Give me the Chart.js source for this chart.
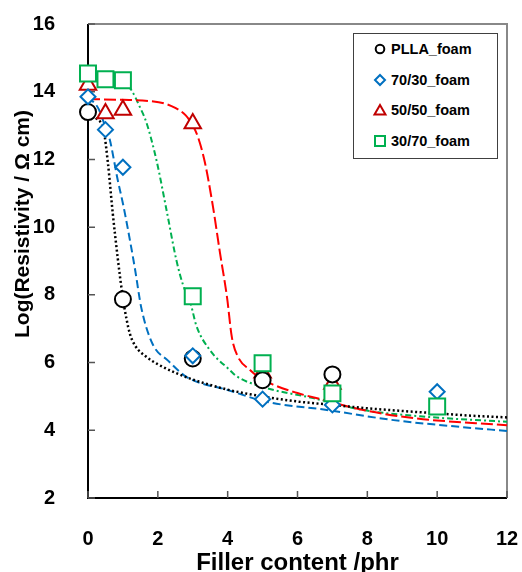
<!DOCTYPE html>
<html>
<head>
<meta charset="utf-8">
<script src="https://cdn.jsdelivr.net/npm/chart.js@4/dist/chart.umd.min.js"></script>
<style>
	body { margin: 0; background: #fff; }
	#wrap { position: relative; width: 522px; height: 572px; }
	#legend {
		position: absolute; left: 353px; top: 33px; width: 143px; height: 124px;
		border: 1px solid #404040; background: #fff;
		font: bold 14.5px "Liberation Sans", Arial, sans-serif; color: #000;
	}
	.item { position: absolute; left: 0; height: 20px; line-height: 20px; }
	.item svg { position: absolute; left: 18px; top: 2px; }
	.item span { position: absolute; left: 37px; white-space: nowrap; }
</style>
</head>
<body>
<div id="wrap">
	<canvas id="chart" width="522" height="572"></canvas>
	<div id="legend"></div>
</div>
<script>
const seriesNames = ['PLLA_foam', '70/30_foam', '50/50_foam', '30/70_foam'];
const markerColors = ['#000000', '#0070C0', '#C00000', '#00B050'];
const lineColors = ['#000000', '#0070C0', '#FF0000', '#00B050'];
const markerStyles = ['circle', 'rectRot', 'triangle', 'rect'];

const xTicks = [0, 2, 4, 6, 8, 10, 12];
const yTicks = [2, 4, 6, 8, 10, 12, 14, 16];

// measured points
const pllaX = [0, 1, 3, 5, 7];
const pllaY = [13.4, 7.87, 6.12, 5.48, 5.65];
const b7030X = [0, 0.5, 1, 3, 5, 7, 10];
const b7030Y = [13.85, 12.88, 11.77, 6.2, 4.92, 4.75, 5.14];
const b5050X = [0, 0.5, 1, 3, 5, 7];
const b5050Y = [14.2, 13.36, 13.46, 13.06, 5.7, 5.37];
const b3070X = [0, 0.5, 1, 3, 5, 7, 10];
const b3070Y = [14.54, 14.37, 14.34, 7.96, 5.98, 5.09, 4.7];

// fitted curves
const pllaFitX = [0, 0.25, 0.45, 0.57, 0.71, 0.85, 1.0, 1.1, 1.2, 1.35, 1.67, 2.0, 2.5, 3, 4, 5, 6, 7, 8, 9, 10, 11, 12];
const pllaFitY = [13.35, 13.2, 12.85, 11.9, 10.4, 9.1, 7.9, 7.3, 6.85, 6.5, 6.17, 5.95, 5.7, 5.5, 5.2, 5.0, 4.85, 4.75, 4.65, 4.57, 4.5, 4.43, 4.38];
const b7030FitX = [0, 0.3, 0.5, 0.62, 0.85, 1.0, 1.15, 1.34, 1.53, 1.85, 2.3, 2.83, 4, 5.12, 6.84, 8.75, 10.66, 12];
const b7030FitY = [13.85, 13.5, 12.95, 12.6, 11.4, 10.7, 9.9, 8.8, 7.6, 6.55, 6.05, 5.57, 5.19, 4.84, 4.6, 4.3, 4.1, 3.98];
const b5050FitX = [0, 1, 1.8, 2.2, 2.5, 2.8, 3.0, 3.15, 3.35, 3.58, 3.78, 3.98, 4.12, 4.3, 4.64, 4.85, 5.3, 6.0, 6.73, 7.88, 9.31, 12];
const b5050FitY = [13.78, 13.76, 13.72, 13.65, 13.52, 13.3, 13.0, 12.66, 11.9, 10.6, 9.24, 7.94, 6.75, 6.16, 5.78, 5.6, 5.35, 5.1, 4.9, 4.6, 4.36, 4.15];
const b3070FitX = [0, 0.5, 1.0, 1.24, 1.48, 1.67, 1.96, 2.25, 2.53, 2.72, 2.95, 3.1, 3.49, 4.06, 4.25, 5.0, 6.45, 7.88, 9.8, 12];
const b3070FitY = [14.4, 14.38, 14.3, 14.05, 13.56, 13.1, 11.98, 10.5, 9.03, 8.3, 7.7, 7.1, 6.37, 5.78, 5.6, 5.28, 4.95, 4.6, 4.39, 4.25];

const pointX = [pllaX, b7030X, b5050X, b3070X];
const pointY = [pllaY, b7030Y, b5050Y, b3070Y];
const fitX = [pllaFitX, b7030FitX, b5050FitX, b3070FitX];
const fitY = [pllaFitY, b7030FitY, b5050FitY, b3070FitY];

const lineDashes = [[2, 2.5], [8, 4], [12, 4], [6, 3, 2, 3]];
const markerRadius = [8, 7.5, 9.5, 11.3];
const markerOrder = [2, 1, 3, 0];

const fontFamily = '"Liberation Sans", Arial, sans-serif';

function zip(xs, ys) {
	return xs.map((x, i) => ({ x: x, y: ys[i] }));
}

const datasets = [];

seriesNames.forEach((name, i) => {
	datasets.push({
		label: name,
		data: zip(pointX[i], pointY[i]),
		pointStyle: markerStyles[i],
		pointRadius: markerRadius[i],
		pointBorderWidth: 2,
		pointBorderColor: markerColors[i],
		pointBackgroundColor: '#ffffff',
		showLine: false,
		clip: false,
		order: markerOrder[i]
	});
});

seriesNames.forEach((name, i) => {
	datasets.push({
		label: name + ' fit',
		data: zip(fitX[i], fitY[i]),
		showLine: true,
		pointRadius: 0,
		borderColor: lineColors[i],
		borderWidth: i === 0 ? 2.5 : 2,
		borderDash: lineDashes[i],
		cubicInterpolationMode: 'monotone',
		fill: false,
		clip: false,
		order: 10 + i
	});
});

// frame + inward ticks + rotated y title
const framePlugin = {
	id: 'frame',
	beforeDatasetsDraw(chart) {
		const ctx = chart.ctx;
		const a = chart.chartArea;
		const xs = chart.scales.x;
		const ys = chart.scales.y;

		ctx.save();
		ctx.strokeStyle = '#888888';
		ctx.lineWidth = 2;
		ctx.beginPath();
		ctx.moveTo(a.left, a.top);
		ctx.lineTo(a.right, a.top);
		ctx.lineTo(a.right, a.bottom);
		ctx.stroke();

		ctx.strokeStyle = '#000000';
		ctx.lineWidth = 2;
		ctx.beginPath();
		ctx.moveTo(a.left, a.top);
		ctx.lineTo(a.left, a.bottom);
		ctx.lineTo(a.right, a.bottom);
		ctx.stroke();

		ctx.strokeStyle = '#555555';
		ctx.lineWidth = 1.5;
		ctx.beginPath();
		xTicks.forEach((t) => {
			const px = xs.getPixelForValue(t);
			ctx.moveTo(px, a.bottom);
			ctx.lineTo(px, a.bottom - 7);
		});
		yTicks.forEach((t) => {
			const py = ys.getPixelForValue(t);
			ctx.moveTo(a.left, py);
			ctx.lineTo(a.left + 7, py);
		});
		ctx.stroke();
		ctx.restore();
	},
	afterDraw(chart) {
		const ctx = chart.ctx;
		ctx.save();
		ctx.translate(23, 224);
		ctx.rotate(-Math.PI / 2);
		ctx.font = 'bold 21px ' + fontFamily;
		ctx.fillStyle = '#000';
		ctx.textAlign = 'center';
		ctx.textBaseline = 'middle';
		ctx.fillText('Log(Resistivity / \u03A9 cm)', 0, 0);
		ctx.restore();
	}
};

new Chart(document.getElementById('chart'), {
	type: 'scatter',
	data: { datasets },
	options: {
		responsive: false,
		animation: false,
		layout: { padding: { top: 24, right: 15, left: 0, bottom: 0 } },
		plugins: {
			legend: { display: false },
			tooltip: { enabled: false }
		},
		scales: {
			x: {
				type: 'linear',
				min: 0,
				max: 12,
				afterFit: (s) => {
					s.height = 74;
					s.paddingLeft = 0;
					s.paddingRight = 0;
				},
				afterBuildTicks: (s) => { s.ticks = xTicks.map(v => ({ value: v })); },
				grid: { display: false },
				border: { display: false },
				ticks: {
					autoSkip: false,
					maxRotation: 0,
					padding: 21,
					color: '#000',
					font: { family: fontFamily, size: 20, weight: 'bold' }
				},
				title: {
					display: true,
					text: 'Filler content /phr',
					color: '#000',
					padding: 0,
					font: { family: fontFamily, size: 24, weight: 'bold', lineHeight: 0.7 }
				}
			},
			y: {
				type: 'linear',
				min: 2,
				max: 16,
				afterFit: (s) => {
					s.width = 88;
					s.paddingTop = 0;
					s.paddingBottom = 0;
				},
				afterBuildTicks: (s) => { s.ticks = yTicks.map(v => ({ value: v })); },
				grid: { display: false },
				border: { display: false },
				ticks: {
					autoSkip: false,
					padding: 25,
					color: '#000',
					font: { family: fontFamily, size: 20, weight: 'bold' }
				}
			}
		}
	},
	plugins: [framePlugin]
});

// html legend
const legend = document.getElementById('legend');

function markerSvg(style, color) {
	let shape = '';
	if (style === 'circle') shape = `<circle cx="8" cy="8" r="4.3" fill="#fff" stroke="${color}" stroke-width="2"/>`;
	if (style === 'rectRot') shape = `<polygon points="8,3 13,8 8,13 3,8" fill="#fff" stroke="${color}" stroke-width="2"/>`;
	if (style === 'triangle') shape = `<polygon points="8,3 13.5,12.5 2.5,12.5" fill="#fff" stroke="${color}" stroke-width="2"/>`;
	if (style === 'rect') shape = `<rect x="3" y="3" width="10" height="10" fill="#fff" stroke="${color}" stroke-width="2"/>`;
	return `<svg width="16" height="16">${shape}</svg>`;
}

seriesNames.forEach((name, i) => {
	const item = document.createElement('div');
	item.className = 'item';
	item.style.top = (5 + i * 30.7) + 'px';
	item.innerHTML = markerSvg(markerStyles[i], markerColors[i]) + `<span>${name}</span>`;
	legend.appendChild(item);
});
</script>
</body>
</html>
